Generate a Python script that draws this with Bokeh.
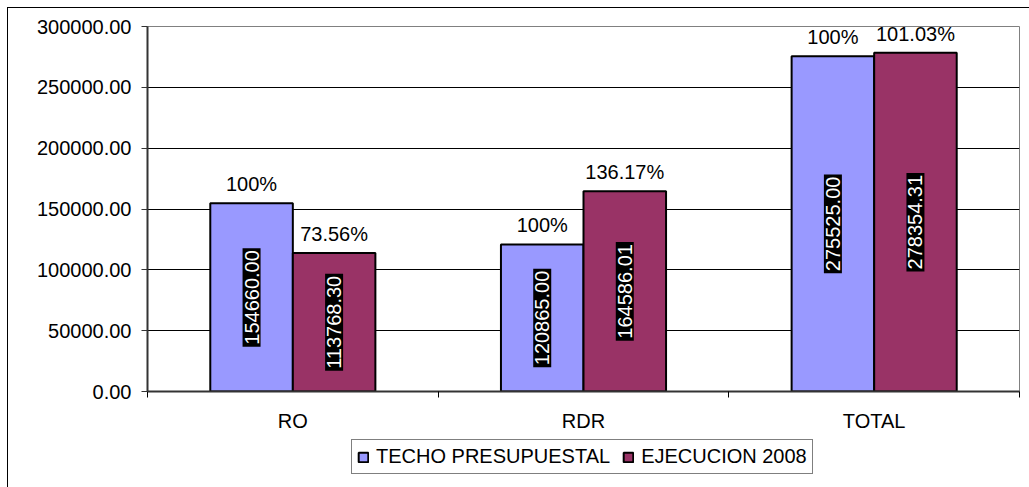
import math
from bokeh.plotting import figure
from bokeh.layouts import column
from bokeh.models import (ColumnDataSource, Range1d, FixedTicker, NumeralTickFormatter,
                          Legend, LegendItem)
from bokeh.core.properties import value
from bokeh.embed import file_html
from bokeh.resources import INLINE

categories = ["RO", "RDR", "TOTAL"]
techo = [154660.00, 120865.00, 275525.00]
ejecucion = [113768.30, 164586.01, 278354.31]
pct_techo = ["100%", "100%", "100%"]
pct_ejec = ["73.56%", "136.17%", "101.03%"]
series_names = ["TECHO PRESUPUESTAL", "EJECUCION 2008"]
colors = ["#9999FF", "#993366"]

FONT = "Liberation Sans"
FS = "20px"
bw = 0.284

LEFT_LINE = "linear-gradient(black, black) 7px 7px / 1px 100% no-repeat"
TOP_LINE = "linear-gradient(black, black) 7px 7px / 100% 1px no-repeat"

p = figure(width=1029, height=436, output_backend="svg", toolbar_location=None,
           x_range=Range1d(0, len(categories)), y_range=Range1d(0, 300000),
           min_border_left=147, min_border_right=10, min_border_top=26, min_border_bottom=45,
           styles={"background": LEFT_LINE + ", " + TOP_LINE + ", white"})
p.border_fill_alpha = 0
p.outline_line_color = "#808080"
p.background_fill_color = "white"

centers = [i + 0.5 for i in range(len(categories))]
src1 = ColumnDataSource(dict(x=[c - bw / 2 for c in centers], top=techo, mid=[v / 2 for v in techo],
                             lab=["%.2f" % v for v in techo], pct=pct_techo))
src2 = ColumnDataSource(dict(x=[c + bw / 2 for c in centers], top=ejecucion, mid=[v / 2 for v in ejecucion],
                             lab=["%.2f" % v for v in ejecucion], pct=pct_ejec))

bar_kw = dict(width=bw, line_color="black", line_width=2)
r1 = p.vbar(x="x", top="top", source=src1, fill_color=colors[0], **bar_kw)
r2 = p.vbar(x="x", top="top", source=src2, fill_color=colors[1], **bar_kw)

for s in (src1, src2):
    p.text(x="x", y="top", text="pct", source=s, text_align="center", text_baseline="bottom",
           y_offset=-8, text_font=value(FONT), text_font_size=FS, text_color="black")
    p.text(x="x", y="mid", text="lab", source=s, angle=math.pi / 2, text_align="center",
           text_baseline="middle", text_font=value(FONT), text_font_size=FS, text_color="white",
           background_fill_color="black", padding=2)

# y axis
p.yaxis.ticker = FixedTicker(ticks=[0, 50000, 100000, 150000, 200000, 250000, 300000])
p.yaxis.formatter = NumeralTickFormatter(format="0.00")
p.yaxis.major_label_text_font = FONT
p.yaxis.major_label_text_font_size = FS
p.yaxis.major_label_text_color = "black"
p.yaxis.major_tick_out = 6
p.yaxis.major_tick_in = 0
p.yaxis.minor_tick_out = 0
p.yaxis.minor_tick_in = 0
p.yaxis.axis_line_color = "#333333"
p.yaxis.axis_line_width = 2
p.yaxis.major_tick_line_color = "#333333"
p.yaxis.major_label_standoff = 10

# x axis: labels at centers, minor ticks at boundaries
p.xaxis.ticker = FixedTicker(ticks=centers, minor_ticks=list(range(len(categories) + 1)))
p.xaxis.major_label_overrides = {c: n for c, n in zip(centers, categories)}
p.xaxis.major_label_text_font = FONT
p.xaxis.major_label_text_font_size = FS
p.xaxis.major_label_text_color = "black"
p.xaxis.major_tick_out = 0
p.xaxis.major_tick_in = 0
p.xaxis.minor_tick_out = 6
p.xaxis.minor_tick_in = 0
p.xaxis.minor_tick_line_color = "black"
p.xaxis.axis_line_color = "#333333"
p.xaxis.axis_line_width = 2
p.xaxis.major_label_standoff = 12

p.xgrid.visible = False
p.ygrid.ticker = FixedTicker(ticks=[50000, 100000, 150000, 200000, 250000, 300000])
p.ygrid.grid_line_color = "black"
p.ygrid.grid_line_width = 1

# legend strip: a small figure holding only the legend swatches
p2 = figure(width=1029, height=51, output_backend="svg", toolbar_location=None,
            x_range=Range1d(0, 1), y_range=Range1d(0, 1),
            x_axis_location=None, y_axis_location=None,
            min_border_left=0, min_border_right=0, min_border_top=0, min_border_bottom=0,
            styles={"background": LEFT_LINE.replace("7px 7px", "7px 0px") + ", white"})
p2.border_fill_alpha = 0
p2.background_fill_alpha = 0
p2.outline_line_color = None
p2.xgrid.visible = False
p2.ygrid.visible = False
nan = float("nan")
l1 = p2.vbar(x=[nan], top=[nan], fill_color=colors[0], **bar_kw)
l2 = p2.vbar(x=[nan], top=[nan], fill_color=colors[1], **bar_kw)

legend = Legend(items=[LegendItem(label=series_names[0], renderers=[l1]),
                       LegendItem(label=series_names[1], renderers=[l2])],
                orientation="horizontal", location=(204, 13),
                label_text_font=FONT, label_text_font_size=FS, label_text_color="black",
                glyph_width=12, glyph_height=12, label_standoff=7, spacing=12,
                padding=5, margin=0, border_line_color="black", border_line_width=1,
                background_fill_color="white", label_height=23)
p2.add_layout(legend, "center")

layout = column(p, p2, spacing=0)

open("out.html", "w").write(file_html(layout, INLINE))
